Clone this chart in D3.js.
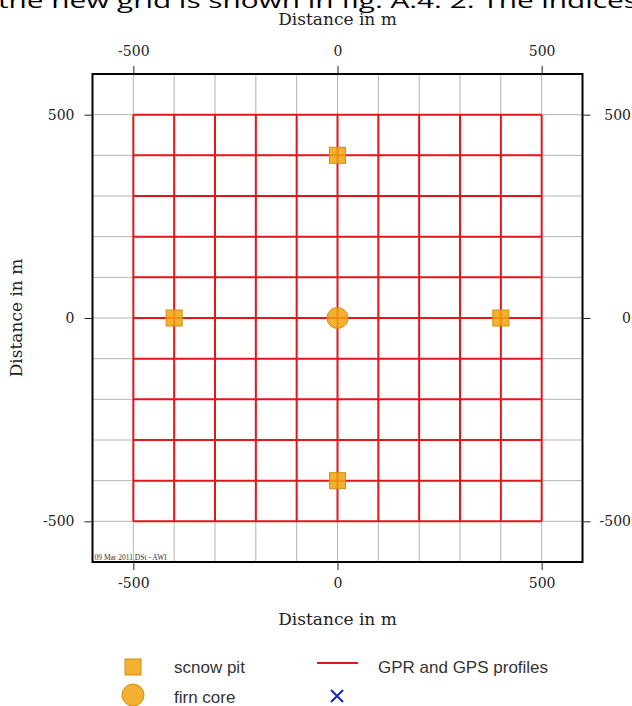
<!DOCTYPE html>
<html>
<head>
<meta charset="utf-8">
<script src="https://cdn.jsdelivr.net/npm/d3@7"></script>
<style>
  body { margin: 0; background: #fff; }
  svg { display: block; }
</style>
</head>
<body>
<div id="chart"></div>
<script>
/* Survey grid map */

const width = 632,
    height = 706;

// grid lines (m) and labelled ticks
const gridLines = [-500, -400, -300, -200, -100, 0, 100, 200, 300, 400, 500];
const tickValues = [-500, 0, 500];

// profiles cover -500..500 in both directions
const profileExtent = [-500, 500];

// snow pits and firn core
const pitX = [0, 0, -400, 400];
const pitY = [400, -400, 0, 0];
const coreX = [0];
const coreY = [0];

const legendLabels = ["scnow pit", "firn core", "GPR and GPS profiles", ""];

const svg = d3.select("#chart")
    .append("svg")
    .attr("width", width)
    .attr("height", height);

let x = d3.scaleLinear()
    .domain([-600, 600])
    .range([92.5, 582.5]);

let y = d3.scaleLinear()
    .domain([-600, 600])
    .range([562, 74]);

/* page text cut off at the top */
svg.append("text")
    .attr("x", -2)
    .attr("y", 8)
    .attr("font-family", "Open Sans, sans-serif")
    .attr("font-size", 20)
    .attr("textLength", 640)
    .attr("lengthAdjust", "spacingAndGlyphs")
    .text("the new grid is shown in fig. A.4. 2. The indices");

/* gray grid */
svg.append("g")
    .selectAll("line")
    .data(gridLines)
    .join("line")
      .attr("x1", d => x(d))
      .attr("x2", d => x(d))
      .attr("y1", y(600))
      .attr("y2", y(-600))
      .attr("stroke", "#b4b4b4")
      .attr("stroke-width", 1);

svg.append("g")
    .selectAll("line")
    .data(gridLines)
    .join("line")
      .attr("y1", d => y(d))
      .attr("y2", d => y(d))
      .attr("x1", x(-600))
      .attr("x2", x(600))
      .attr("stroke", "#b4b4b4")
      .attr("stroke-width", 1);

/* red profile lines */
const red = "#e3161b";
svg.append("g")
    .selectAll("line")
    .data(gridLines)
    .join("line")
      .attr("x1", d => x(d))
      .attr("x2", d => x(d))
      .attr("y1", y(profileExtent[1]))
      .attr("y2", y(profileExtent[0]))
      .attr("stroke", red)
      .attr("stroke-width", 2);

svg.append("g")
    .selectAll("line")
    .data(gridLines)
    .join("line")
      .attr("y1", d => y(d))
      .attr("y2", d => y(d))
      .attr("x1", x(profileExtent[0]))
      .attr("x2", x(profileExtent[1]))
      .attr("stroke", red)
      .attr("stroke-width", 2);

/* markers */
const orange = "#f2a20c";
svg.append("g")
    .selectAll("rect")
    .data(pitX)
    .join("rect")
      .attr("x", (d, i) => x(d) - 8)
      .attr("y", (d, i) => y(pitY[i]) - 8)
      .attr("width", 16)
      .attr("height", 16)
      .attr("fill", orange)
      .attr("fill-opacity", 0.85)
      .attr("stroke", "#d58c10")
      .attr("stroke-width", 1);

svg.append("g")
    .selectAll("circle")
    .data(coreX)
    .join("circle")
      .attr("cx", d => x(d))
      .attr("cy", (d, i) => y(coreY[i]))
      .attr("r", 10.5)
      .attr("fill", orange)
      .attr("fill-opacity", 0.85)
      .attr("stroke", "#d58c10")
      .attr("stroke-width", 1);

/* frame */
svg.append("rect")
    .attr("x", x(-600))
    .attr("y", y(600))
    .attr("width", x(600) - x(-600))
    .attr("height", y(-600) - y(600))
    .attr("fill", "none")
    .attr("stroke", "#000")
    .attr("stroke-width", 2);

/* axes */
const serif = "DejaVu Serif, serif";
const fmt = d => String(d); // plain hyphen, as in the original
function styleAxis(g) {
    g.select(".domain").remove();
    g.selectAll("line").attr("stroke", "#222");
    g.selectAll("text")
      .attr("font-family", serif)
      .attr("font-size", 14)
      .attr("fill", "#222");
}

svg.append("g")
    .attr("transform", `translate(0,${y(600)})`)
    .call(d3.axisTop(x).tickValues(tickValues).tickFormat(fmt).tickSize(8).tickPadding(10))
    .call(styleAxis);

svg.append("g")
    .attr("transform", `translate(0,${y(-600)})`)
    .call(d3.axisBottom(x).tickValues(tickValues).tickFormat(fmt).tickSize(8).tickPadding(8))
    .call(styleAxis);

svg.append("g")
    .attr("transform", `translate(${x(-600)},0)`)
    .call(d3.axisLeft(y).tickValues(tickValues).tickFormat(fmt).tickSize(8).tickPadding(10))
    .call(styleAxis);

svg.append("g")
    .attr("transform", `translate(${x(600)},0)`)
    .call(d3.axisRight(y).tickValues(tickValues).tickFormat(fmt).tickSize(8))
    .call(styleAxis)
    .call(g => g.selectAll("text")
      .attr("text-anchor", "end")
      .attr("x", 631 - x(600)));

/* axis titles */
svg.append("text")
    .attr("x", x(0))
    .attr("y", 25)
    .attr("text-anchor", "middle")
    .attr("font-family", serif)
    .attr("font-size", 17)
    .attr("fill", "#222")
    .text("Distance in m");

svg.append("text")
    .attr("x", x(0))
    .attr("y", 625)
    .attr("text-anchor", "middle")
    .attr("font-family", serif)
    .attr("font-size", 17)
    .attr("fill", "#222")
    .text("Distance in m");

svg.append("text")
    .attr("transform", `translate(22,${y(0)}) rotate(-90)`)
    .attr("text-anchor", "middle")
    .attr("font-family", serif)
    .attr("font-size", 17)
    .attr("fill", "#222")
    .text("Distance in m");

/* stamp */
svg.append("text")
    .attr("x", x(-600) + 2)
    .attr("y", y(-600) - 2)
    .attr("font-family", "Liberation Serif, serif")
    .attr("font-size", 7.5)
    .attr("fill", "#333")
    .text("09 Mar 2011 DSt - AWI");

/* legend */
const legend = svg.append("g")
    .attr("font-family", "Liberation Sans, Arial, sans-serif")
    .attr("font-size", 17)
    .attr("fill", "#333");

legend.append("rect")
    .attr("x", 125).attr("y", 659)
    .attr("width", 16).attr("height", 16)
    .attr("fill", orange)
    .attr("fill-opacity", 0.85)
    .attr("stroke", "#d58c10");

legend.append("circle")
    .attr("cx", 133).attr("cy", 695).attr("r", 11)
    .attr("fill", orange)
    .attr("fill-opacity", 0.85)
    .attr("stroke", "#d58c10");

legend.append("line")
    .attr("x1", 317).attr("x2", 358)
    .attr("y1", 663).attr("y2", 663)
    .attr("stroke", red)
    .attr("stroke-width", 2);

legend.append("path")
    .attr("d", "M331,690L343,702M343,690L331,702")
    .attr("stroke", "#1a22c8")
    .attr("stroke-width", 2)
    .attr("fill", "none");

legend.append("text").attr("x", 174).attr("y", 673).text(legendLabels[0]);
legend.append("text").attr("x", 174).attr("y", 703).text(legendLabels[1]);
legend.append("text").attr("x", 378).attr("y", 673).text(legendLabels[2]);
</script>
</body>
</html>
